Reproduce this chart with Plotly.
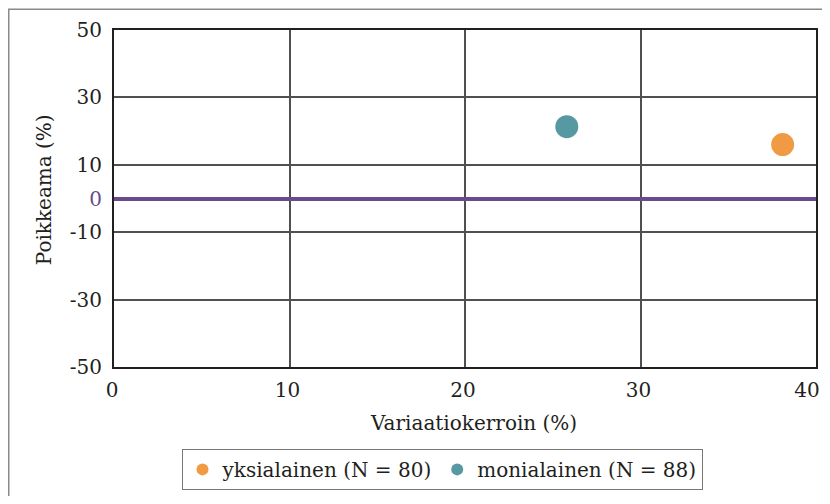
import plotly.graph_objects as go

series_names = ["yksialainen (N = 80)", "monialainen (N = 88)"]
x_values = [38.1, 25.8]
y_values = [16.0, 21.3]
colors = ["#f09a44", "#5799a2"]

x_range = [0, 40]
x_ticks = [0, 10, 20, 30, 40]
y_ticks = [-50, -30, -10, 0, 10, 30, 50]
y_ticktext = ["-50", "-30", "-10", '<span style="color:#6a4a8c">0</span>', "10", "30", "50"]
x_title = "Variaatiokerroin (%)"
y_title = "Poikkeama (%)"

FONT = "DejaVu Serif, Liberation Serif, serif"
TEXT = "#231f20"

fig = go.Figure()
for name, xv, yv, c in zip(series_names, x_values, y_values, colors):
    fig.add_trace(go.Scatter(
        x=[xv], y=[yv], mode="markers", name=name,
        marker=dict(color=c, size=23, line=dict(width=0)),
    ))
# empty carrier trace so the overlaying label axis is drawn
fig.add_trace(go.Scatter(x=[], y=[], xaxis="x2", yaxis="y",
                         showlegend=False, hoverinfo="skip"))

# page body has an 8px margin on every side; keep the figure inside the window
OFF = 8
W, H = 830 - 2 * OFF, 504 - 2 * OFF
plot_l, plot_r, plot_t, plot_b = 114, 816, 29.5, 367   # screen coordinates
ml = plot_l - OFF
mr = (OFF + W) - plot_r
mt = plot_t - OFF
mb = (OFF + H) - plot_b
pw = plot_r - plot_l
ph = plot_b - plot_t

def px_to_paper_x(p):
    return (p - plot_l) / pw

def px_to_paper_y(p):
    return (plot_b - p) / ph

common_x = dict(range=x_range, automargin=False, ticks="", zeroline=False,
                ticklabeloverflow="allow")

fig.update_layout(
    width=W, height=H,
    margin=dict(l=ml, r=mr, t=mt, b=mb, pad=0, autoexpand=False),
    paper_bgcolor="white", plot_bgcolor="white",
    font=dict(family=FONT, size=20, color=TEXT),
    showlegend=True,
    legend=dict(
        orientation="h",
        x=px_to_paper_x(442), xanchor="center",
        y=px_to_paper_y(449), yanchor="top",
        bordercolor="#777777", borderwidth=1,
        font=dict(size=20, family=FONT),
        itemsizing="constant",
    ),
    xaxis=dict(
        **common_x, tickvals=x_ticks[:-1], ticklabelshift=-2,
        ticklabelstandoff=4,
        showgrid=True, gridcolor="#505050", gridwidth=2,
        showline=True, linecolor=TEXT, linewidth=2, mirror=True,
    ),
    # last x label sits a little inside the plot edge, as in the reference
    xaxis2=dict(
        **common_x, overlaying="x", anchor="y", side="bottom",
        tickvals=x_ticks[-1:], ticklabelshift=-9, ticklabelstandoff=9,
        showgrid=False, showline=False,
    ),
    yaxis=dict(
        range=[-50, 50], tickvals=y_ticks, ticktext=y_ticktext,
        showgrid=True, gridcolor="#505050", gridwidth=2, automargin=False,
        showline=True, linecolor=TEXT, linewidth=2, mirror=True,
        zeroline=True, zerolinecolor="#6a4a8c", zerolinewidth=4,
        ticks="", ticklabelstandoff=6,
    ),
    annotations=[
        dict(text=x_title, xref="paper", yref="paper",
             x=px_to_paper_x(474), y=px_to_paper_y(423),
             xanchor="center", yanchor="middle", showarrow=False,
             font=dict(size=20, family=FONT, color=TEXT)),
        dict(text=y_title, xref="paper", yref="paper", textangle=-90,
             x=px_to_paper_x(44), y=px_to_paper_y(190),
             xanchor="center", yanchor="middle", showarrow=False,
             font=dict(size=20, family=FONT, color=TEXT)),
    ],
    shapes=[dict(
        type="rect", xref="paper", yref="paper",
        x0=px_to_paper_x(OFF + 0.75), x1=px_to_paper_x(845),
        y0=px_to_paper_y(520), y1=px_to_paper_y(OFF + 0.75),
        line=dict(color="#8a8a8a", width=1.5), layer="below",
    )],
)

fig.write_html("out.html")
